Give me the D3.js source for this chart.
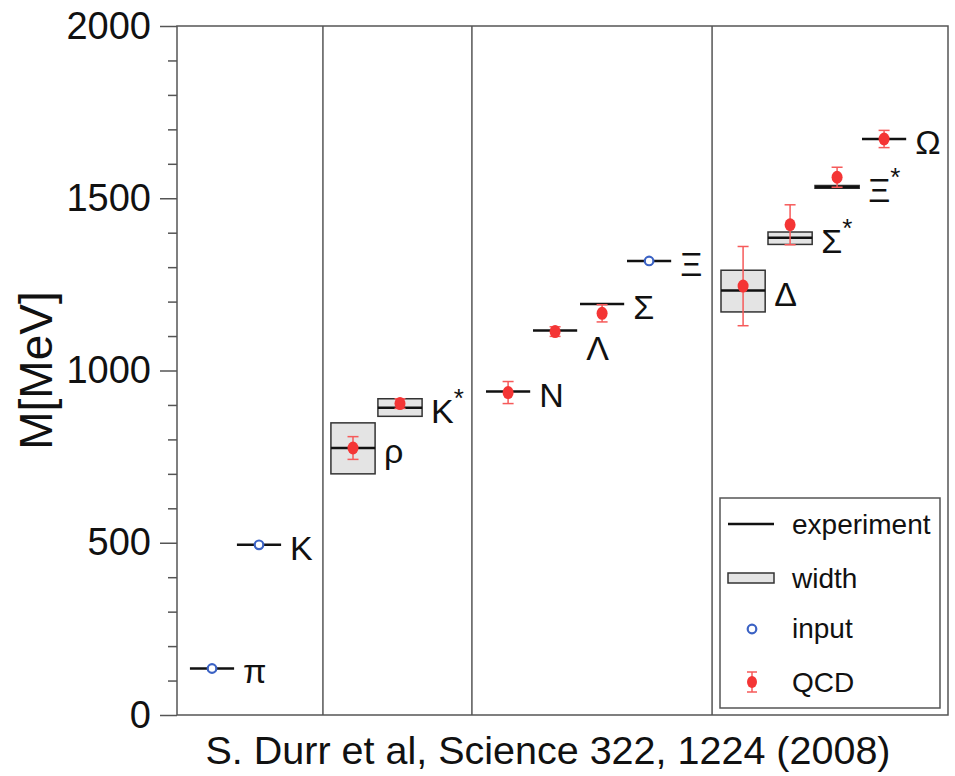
<!DOCTYPE html>
<html><head><meta charset="utf-8">
<script src="https://cdn.jsdelivr.net/npm/d3@7"></script>
<style>body{margin:0;background:#fff}</style>
</head><body><svg id="c" width="955" height="776"></svg>
<script>
// ---- data ----
const names      = ["π","K","ρ","K","N","Λ","Σ","Ξ","Δ","Σ","Ξ","Ω"];
const starred    = [false,false,false,true,false,false,false,false,false,true,true,false];
const slots      = [1,2,4,5,7.3,8.3,9.3,10.3,12.3,13.3,14.3,15.3];
const experiment = [135,494,775,892,939,1116,1193,1318,1232,1385,1533,1672];
const widthLow   = [null,null,700,867,null,null,null,null,1170,1366,1529,null];
const widthHigh  = [null,null,848,918,null,null,null,null,1291,1402,1537,null];
const isInput    = [true,true,false,false,false,false,false,true,false,false,false,false];
const qcdMass    = [null,null,775,904,936,1113,1166,null,1245,1423,1561,1672];
const qcdErr     = [null,null,33,14,32,14,25,null,115,58,29,25];
const separators = [3.36,6.53,11.64];
const yTicks     = [0,500,1000,1500,2000];
const legendLabels = ["experiment","width","input","QCD"];
const caption    = "S. Durr et al, Science 322, 1224 (2008)";
const yTitle     = "M[MeV]";
const labelNudge = {5: 14};

// ---- layout ----
const svg = d3.select("#c");
const FONT = "'Liberation Sans', Arial, Helvetica, sans-serif";
const L = 177, R = 948, T = 26, B = 715;
const x = d3.scaleLinear().domain([0.255,16.66]).range([L,R]);
const y = d3.scaleLinear().domain([0,2000]).range([B,T]);
const half = 0.47;
const RED = "#f43535", RED2 = "#f65a5a", BLUE = "#3b62c4";

// frame
svg.append("rect").attr("x",L).attr("y",T).attr("width",R-L).attr("height",B-T)
  .attr("fill","none").attr("stroke","#555").attr("stroke-width",1.5);
svg.selectAll("line.sep").data(separators).join("line").attr("class","sep")
  .attr("x1",d=>x(d)).attr("x2",d=>x(d)).attr("y1",T).attr("y2",B)
  .attr("stroke","#555").attr("stroke-width",1.5);

// y axis
const ax = svg.append("g").attr("transform",`translate(${L},0)`)
  .call(d3.axisLeft(y).tickValues(yTicks).tickSize(17).tickPadding(9).tickFormat(d3.format("d")));
ax.select(".domain").remove();
ax.selectAll(".tick line").attr("stroke","#555").attr("stroke-width",1.5);
ax.selectAll(".tick text").attr("font-family",FONT).attr("font-size",38).attr("fill","#111");
const minor = d3.range(100,2000,100).filter(v=>v%500!==0);
svg.append("g").attr("transform",`translate(${L},0)`)
  .call(d3.axisLeft(y).tickValues(minor).tickSize(9).tickFormat(""))
  .call(g=>g.select(".domain").remove())
  .selectAll(".tick line").attr("stroke","#555").attr("stroke-width",1.5);

svg.append("text").attr("transform",`translate(52,${(y(0)+y(2000))/2}) rotate(-90)`)
  .attr("text-anchor","middle").attr("font-family",FONT).attr("font-size",46).attr("fill","#111")
  .text(yTitle);

const idx = d3.range(names.length);

// width boxes
svg.selectAll("rect.w").data(idx.filter(i=>widthLow[i]!=null)).join("rect").attr("class","w")
  .attr("x",i=>x(slots[i]-half)).attr("width",i=>x(slots[i]+half)-x(slots[i]-half))
  .attr("y",i=>y(widthHigh[i])).attr("height",i=>y(widthLow[i])-y(widthHigh[i]))
  .attr("fill","#e4e4e4").attr("stroke","#333").attr("stroke-width",1.5);

// experiment lines
svg.selectAll("line.exp").data(idx).join("line").attr("class","exp")
  .attr("x1",i=>x(slots[i]-half)).attr("x2",i=>x(slots[i]+half))
  .attr("y1",i=>y(experiment[i])).attr("y2",i=>y(experiment[i]))
  .attr("stroke","#111").attr("stroke-width",2.5);

// QCD error bars and points
const q = idx.filter(i=>qcdMass[i]!=null);
const eb = svg.selectAll("g.eb").data(q).join("g").attr("class","eb")
  .attr("stroke",RED2).attr("stroke-width",1.5);
eb.append("line").attr("x1",i=>x(slots[i])).attr("x2",i=>x(slots[i]))
  .attr("y1",i=>y(qcdMass[i]+qcdErr[i])).attr("y2",i=>y(qcdMass[i]-qcdErr[i]));
eb.append("line").attr("x1",i=>x(slots[i])-5.5).attr("x2",i=>x(slots[i])+5.5)
  .attr("y1",i=>y(qcdMass[i]+qcdErr[i])).attr("y2",i=>y(qcdMass[i]+qcdErr[i]));
eb.append("line").attr("x1",i=>x(slots[i])-5.5).attr("x2",i=>x(slots[i])+5.5)
  .attr("y1",i=>y(qcdMass[i]-qcdErr[i])).attr("y2",i=>y(qcdMass[i]-qcdErr[i]));
svg.selectAll("ellipse.q").data(q).join("ellipse").attr("class","q")
  .attr("cx",i=>x(slots[i])).attr("cy",i=>y(qcdMass[i])).attr("rx",5.5).attr("ry",6.5)
  .attr("fill",RED);

// input points
svg.selectAll("circle.in").data(idx.filter(i=>isInput[i])).join("circle").attr("class","in")
  .attr("cx",i=>x(slots[i])).attr("cy",i=>y(experiment[i])).attr("r",4.3)
  .attr("fill","#fff").attr("stroke",BLUE).attr("stroke-width",2.2);

// labels
const lab = svg.selectAll("text.lab").data(idx).join("text").attr("class","lab")
  .attr("x",i=>x(slots[i]+half)+9).attr("y",i=>y(experiment[i])+3+(labelNudge[i]||0))
  .attr("dominant-baseline","central").attr("font-family",FONT).attr("font-size",34).attr("fill","#111");
lab.append("tspan").text(i=>names[i]);
lab.filter(i=>starred[i]).append("tspan").attr("dy",-13).attr("font-size",26).text("*");

// legend
const lg = svg.append("g");
lg.append("rect").attr("x",720).attr("y",498).attr("width",220).attr("height",210)
  .attr("fill","#fff").attr("stroke","#555").attr("stroke-width",1.5);
const ly = [524,578,628,682];
lg.append("line").attr("x1",728).attr("x2",774).attr("y1",ly[0]).attr("y2",ly[0])
  .attr("stroke","#111").attr("stroke-width",2.5);
lg.append("rect").attr("x",728).attr("y",ly[1]-5).attr("width",46).attr("height",10)
  .attr("fill","#e4e4e4").attr("stroke","#333").attr("stroke-width",1.5);
lg.append("circle").attr("cx",752).attr("cy",ly[2]+1).attr("r",4.3)
  .attr("fill","#fff").attr("stroke",BLUE).attr("stroke-width",2.2);
const lq = lg.append("g").attr("stroke",RED2).attr("stroke-width",1.5);
lq.append("line").attr("x1",752).attr("x2",752).attr("y1",ly[3]-10).attr("y2",ly[3]+10);
lq.append("line").attr("x1",747).attr("x2",757).attr("y1",ly[3]-10).attr("y2",ly[3]-10);
lq.append("line").attr("x1",747).attr("x2",757).attr("y1",ly[3]+10).attr("y2",ly[3]+10);
lg.append("ellipse").attr("cx",752).attr("cy",ly[3]).attr("rx",5).attr("ry",6).attr("fill",RED);
lg.selectAll("text").data(legendLabels).join("text")
  .attr("x",792).attr("y",(d,i)=>ly[i]).attr("dominant-baseline","central")
  .attr("font-family",FONT).attr("font-size",28).attr("fill","#111").text(d=>d);

// caption
svg.append("text").attr("x",548).attr("y",750).attr("text-anchor","middle")
  .attr("dominant-baseline","central").attr("font-family",FONT).attr("font-size",39.5)
  .attr("fill","#111").text(caption);
</script></body></html>
